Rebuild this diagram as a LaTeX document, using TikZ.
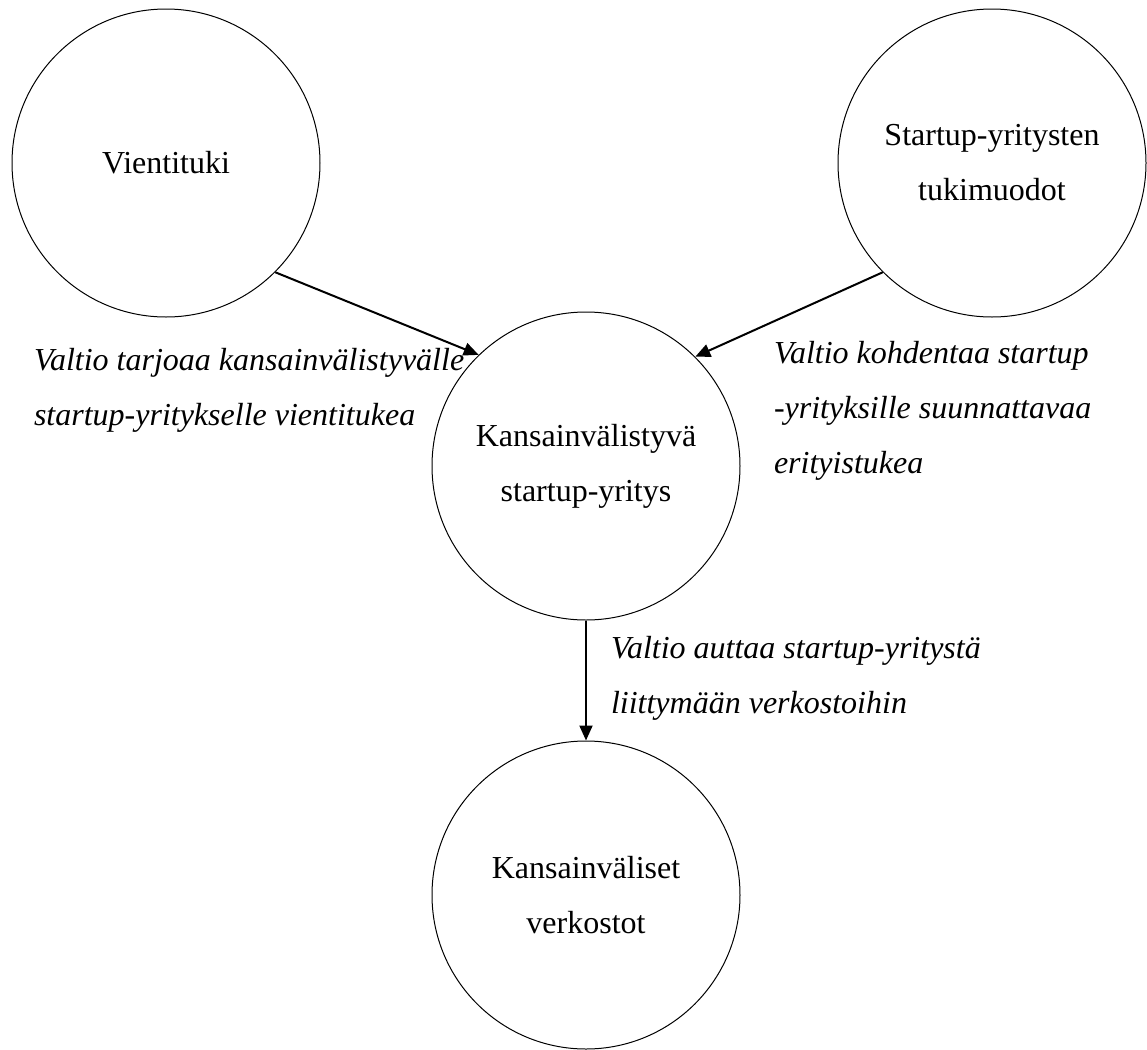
\documentclass[tikz,border=0pt]{standalone}
\usepackage{fontspec}
\setmainfont{Liberation Serif}
\usetikzlibrary{arrows.meta}

\begin{document}
\begin{tikzpicture}[x=0.5pt, y=-0.5pt, >={Triangle[length=7.5pt, width=6.5pt]}]
      \tikzstyle{topic} = [draw, circle, line width=0.5pt, minimum size=154pt, inner sep=0pt, align=center, font=\fontsize{16}{27.5}\selectfont]
      \tikzstyle{note} = [anchor=base west, align=left, inner sep=0pt, font=\fontsize{16}{27.5}\selectfont\itshape]
      \useasboundingbox (0,0) rectangle (1147,1050);
      \path[->, line width=1pt]
	node[topic] (vienti) at (166,163) {Vientituki}
	node[topic] (tuki) at (992,163) {Startup-yritysten\\tukimuodot}
	node[topic] (yritys) at (586,466) {Kansainvälistyvä\\startup-yritys}
	node[topic] (verkostot) at (586,895) {Kansainväliset\\verkostot}
	% base anchor sits on the last line
	node[note] (vientiteksti) at (33,425) {Valtio tarjoaa kansainvälistyvälle\\startup-yritykselle vientitukea}
	node[note] (tukiteksti) at (773,473) {Valtio kohdentaa startup\\-yrityksille suunnattavaa\\erityistukea}
	node[note] (verkostoteksti) at (610,713) {Valtio auttaa startup-yritystä\\liittymään verkostoihin}
	(vienti.-45) edge (yritys.134)
	(tuki.-135) edge (yritys.45)
	(yritys) edge (verkostot)
	;
\end{tikzpicture}
\end{document}
